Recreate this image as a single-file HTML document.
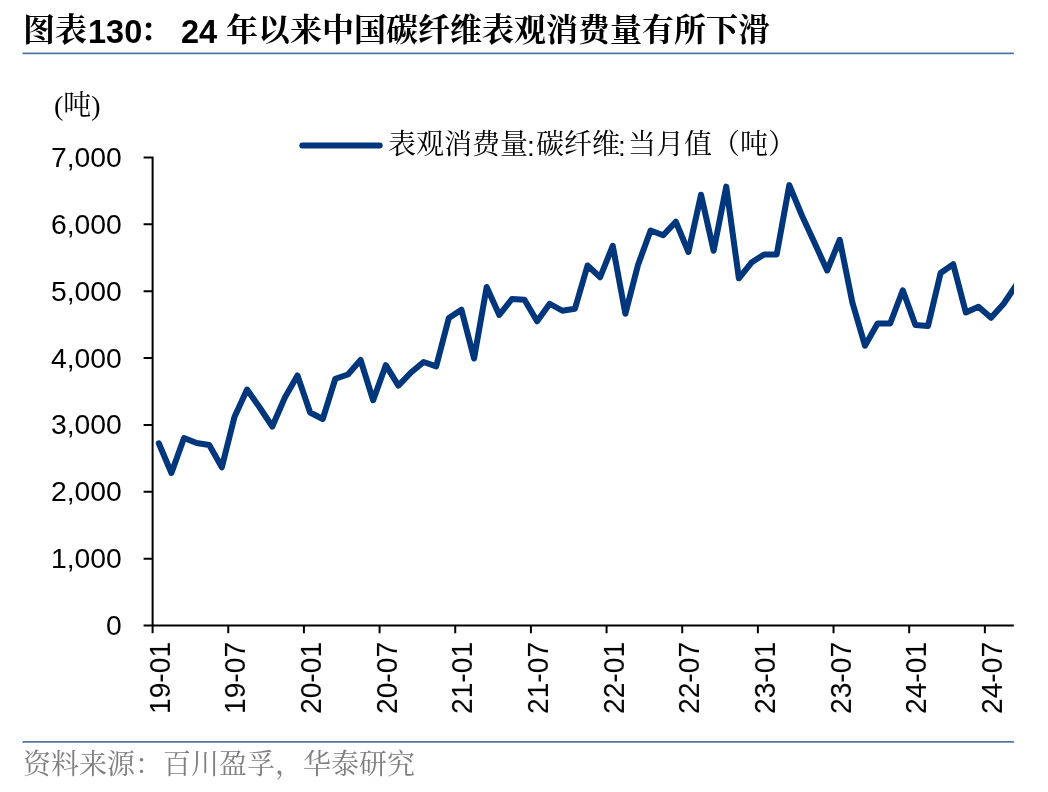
<!DOCTYPE html>
<html lang="zh-CN"><head><meta charset="utf-8"><title>图表130： 24年以来中国碳纤维表观消费量有所下滑</title>
<style>
html,body{margin:0;padding:0;background:#fff;}
body{width:1048px;height:792px;position:relative;overflow:hidden;font-family:"Liberation Sans",sans-serif;color:#000;}
#g{position:absolute;left:0;top:0;width:1048px;height:792px;display:block;}
.t{position:absolute;white-space:nowrap;line-height:1;margin:0;will-change:transform;}
.cjk{color:#000;font-family:"Liberation Serif","Noto Serif CJK SC",serif;}
.num{font-weight:bold;font-size:32.5px;}
.yl{font-size:28.3px;right:926.6px;text-align:right;}
.xl{font-size:28.2px;transform-origin:0 0;transform:rotate(-90deg) scaleY(1.04);}
.col{font-size:28px;}
</style></head><body>
<svg id="g" width="1048" height="792" viewBox="0 0 1048 792">
<defs><clipPath id="plot"><rect x="140" y="100" width="873.9" height="540"/></clipPath></defs>
<path d="M22.5 53.4H1013.9M22.5 741.9H1013.9" stroke="#4f78a8" stroke-width="1.8" fill="none"/>
<path d="M152.6 156.5 V633.2M143.6 625.5 H1013.8M143.6 558.64 H152.6M143.6 491.79 H152.6M143.6 424.93 H152.6M143.6 358.07 H152.6M143.6 291.21 H152.6M143.6 224.36 H152.6M143.6 157.5 H152.6M228.26 625.5 V633.2M303.92 625.5 V633.2M379.58 625.5 V633.2M455.24 625.5 V633.2M530.9 625.5 V633.2M606.56 625.5 V633.2M682.22 625.5 V633.2M757.88 625.5 V633.2M833.54 625.5 V633.2M909.2 625.5 V633.2M984.86 625.5 V633.2" stroke="#000000" stroke-width="2" fill="none"/>
<path d="M302.3 145.4H379.7" stroke="#00367b" stroke-width="6" stroke-linecap="round" fill="none"/>
<polyline clip-path="url(#plot)" points="158.8,443.25 171.41,473 184.02,438 196.63,443 209.24,445 221.85,467.3 234.46,417 247.07,389.5 259.68,407.5 272.29,426.5 284.9,397.5 297.51,375.5 310.12,412.5 322.73,419 335.34,378.75 347.95,374.5 360.56,360 373.17,400.25 385.78,365.2 398.39,385.55 411,372.5 423.61,362 436.22,366.3 448.83,318 461.44,309.75 474.05,358.5 486.66,287 499.27,315 511.88,299 524.49,299.75 537.1,321.25 549.71,303.75 562.32,310.75 574.93,308.75 587.54,265.5 600.15,277.25 612.76,245.75 625.37,313.75 637.98,265 650.59,230.5 663.2,235.25 675.81,221.75 688.42,252 701.03,194.75 713.64,250.75 726.25,186.65 738.86,278.25 751.47,262.5 764.08,254.5 776.69,254.5 789.3,185.1 801.91,215.5 814.52,242.7 827.13,270.5 839.74,239.75 852.35,302.3 864.96,345.65 877.57,323.5 890.18,323.5 902.79,290.25 915.4,325 928.01,326 940.62,273 953.23,264.25 965.84,312.5 978.45,306.75 991.06,317.75 1003.67,303.75 1016.28,284.85" stroke="#00367b" stroke-width="6" stroke-linejoin="round" stroke-linecap="round" fill="none"/>
</svg>
<div class="t cjk" style="left:23px;top:14px;font-size:32px;font-weight:bold;">图表</div>
<div class="t num" style="left:88px;top:16.09px;">130</div>
<div class="t cjk" style="left:140.4px;top:14px;font-size:32px;font-weight:bold;">：</div>
<div class="t num" style="left:181.27px;top:16.09px;">24</div>
<div class="t cjk" style="left:225.78px;top:14px;font-size:32px;font-weight:bold;">年以来中国碳纤维表观消费量有所下滑</div>
<div class="t cjk" style="left:54px;top:92px;font-size:28px;">(吨)</div>
<div class="t cjk" style="left:388px;top:131px;font-size:28px;">表观消费量</div>
<div class="t col" style="left:526.6px;top:132.5px;">:</div>
<div class="t cjk" style="left:535.8px;top:131px;font-size:28px;">碳纤维</div>
<div class="t col" style="left:618.4px;top:132.5px;">:</div>
<div class="t cjk" style="left:627.6px;top:131px;font-size:28px;">当月值（吨）</div>
<div class="t yl" style="top:610.94px;">0</div>
<div class="t yl" style="top:544.08px;">1,000</div>
<div class="t yl" style="top:477.23px;">2,000</div>
<div class="t yl" style="top:410.37px;">3,000</div>
<div class="t yl" style="top:343.51px;">4,000</div>
<div class="t yl" style="top:276.66px;">5,000</div>
<div class="t yl" style="top:209.8px;">6,000</div>
<div class="t yl" style="top:142.94px;">7,000</div>
<div class="t xl" style="left:144.77px;top:713.9px;">19-01</div>
<div class="t xl" style="left:220.43px;top:713.9px;">19-07</div>
<div class="t xl" style="left:296.09px;top:713.9px;">20-01</div>
<div class="t xl" style="left:371.75px;top:713.9px;">20-07</div>
<div class="t xl" style="left:447.41px;top:713.9px;">21-01</div>
<div class="t xl" style="left:523.07px;top:713.9px;">21-07</div>
<div class="t xl" style="left:598.73px;top:713.9px;">22-01</div>
<div class="t xl" style="left:674.39px;top:713.9px;">22-07</div>
<div class="t xl" style="left:750.05px;top:713.9px;">23-01</div>
<div class="t xl" style="left:825.71px;top:713.9px;">23-07</div>
<div class="t xl" style="left:901.37px;top:713.9px;">24-01</div>
<div class="t xl" style="left:977.03px;top:713.9px;">24-07</div>
<div class="t cjk" style="left:23px;top:751px;font-size:28px;color:#7f7f7f;">资料来源：百川盈孚，华泰研究</div>
</body></html>
